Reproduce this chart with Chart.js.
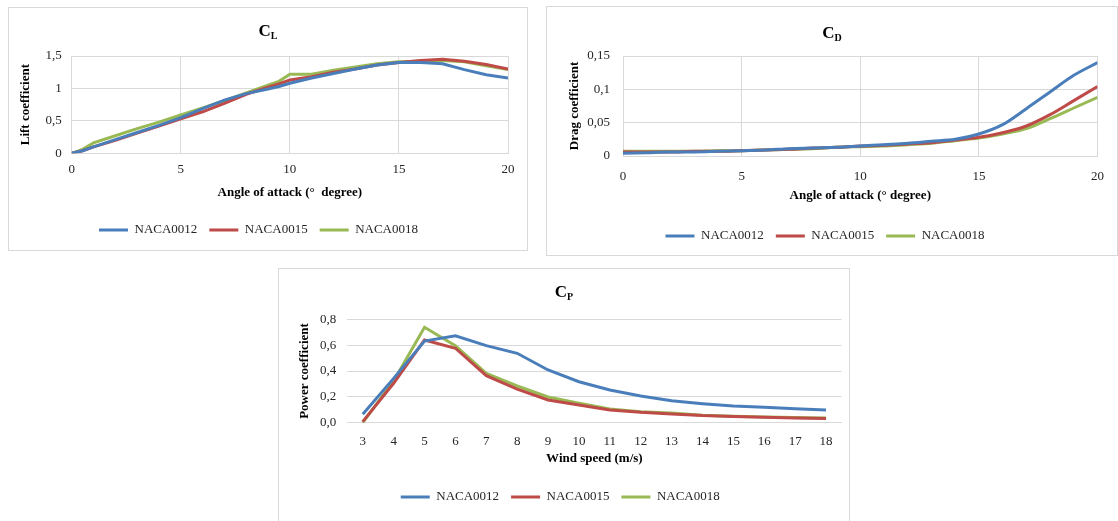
<!DOCTYPE html>
<html>
<head>
<meta charset="utf-8">
<script src="https://cdn.jsdelivr.net/npm/chart.js@4.4.1/dist/chart.umd.min.js"></script>
<style>
  html, body { margin:0; padding:0; background:#fff; }
  body { width:1118px; height:521px; position:relative; overflow:hidden; }
  .box { position:absolute; border:1px solid #d9d9d9; box-sizing:border-box; background:#fff; }
  #boxCL { left:8px; top:7px; width:520px; height:244px; }
  #boxCD { left:546px; top:6px; width:572px; height:250px; }
  #boxCP { left:278px; top:268px; width:572px; height:258px; }
</style>
</head>
<body>
<div class="box" id="boxCL"><canvas id="chartCL"></canvas></div>
<div class="box" id="boxCD"><canvas id="chartCD"></canvas></div>
<div class="box" id="boxCP"><canvas id="chartCP"></canvas></div>

<script>
// ---- data ----
const seriesNames = ['NACA0012', 'NACA0015', 'NACA0018'];

// lift coefficient vs angle of attack
const clAngles = [0, 0.5, 1, 2, 3, 4, 5, 6, 7, 8, 9, 9.5, 10, 11, 12, 13, 14, 15, 16, 17, 18, 19, 20];
const cl0012 = [0, 0.04, 0.10, 0.21, 0.32, 0.43, 0.55, 0.69, 0.82, 0.92, 0.99, 1.03, 1.08, 1.16, 1.23, 1.30, 1.36, 1.40, 1.40, 1.38, 1.29, 1.21, 1.16];
const cl0015 = [0, 0.04, 0.10, 0.20, 0.31, 0.42, 0.53, 0.64, 0.77, 0.91, 1.02, 1.07, 1.13, 1.18, 1.25, 1.30, 1.36, 1.40, 1.43, 1.45, 1.42, 1.37, 1.30];
const cl0018 = [0, 0.06, 0.16, 0.27, 0.38, 0.48, 0.59, 0.70, 0.81, 0.93, 1.05, 1.11, 1.22, 1.22, 1.28, 1.33, 1.38, 1.41, 1.42, 1.43, 1.41, 1.35, 1.29];
const clXTicks = [0, 5, 10, 15, 20];
const clYTicks = [0, 0.5, 1, 1.5];
const clYLabels = ['0', '0,5', '1', '1,5'];

// drag coefficient vs angle of attack
const cdAngles = [0, 1, 2, 3, 4, 5, 6, 7, 8, 9, 10, 11, 12, 13, 14, 15, 16, 17, 18, 19, 20];
const cd0012 = [0.004, 0.005, 0.006, 0.006, 0.007, 0.008, 0.009, 0.011, 0.012, 0.013, 0.015, 0.017, 0.019, 0.022, 0.025, 0.033, 0.047, 0.071, 0.096, 0.121, 0.140];
const cd0015 = [0.006, 0.006, 0.006, 0.007, 0.007, 0.008, 0.009, 0.010, 0.012, 0.013, 0.015, 0.016, 0.018, 0.020, 0.024, 0.028, 0.035, 0.045, 0.062, 0.083, 0.104];
const cd0018 = [0.007, 0.007, 0.007, 0.007, 0.008, 0.008, 0.009, 0.010, 0.011, 0.013, 0.014, 0.015, 0.017, 0.019, 0.023, 0.027, 0.033, 0.041, 0.056, 0.072, 0.088];
const cdXTicks = [0, 5, 10, 15, 20];
const cdYTicks = [0, 0.05, 0.1, 0.15];
const cdYLabels = ['0', '0,05', '0,1', '0,15'];

// power coefficient vs wind speed
const cpSpeeds = ['3', '4', '5', '6', '7', '8', '9', '10', '11', '12', '13', '14', '15', '16', '17', '18'];
const cp0012 = [0.065, 0.343, 0.632, 0.673, 0.596, 0.537, 0.408, 0.317, 0.253, 0.207, 0.170, 0.147, 0.129, 0.119, 0.108, 0.098];
const cp0015 = [0.008, 0.305, 0.640, 0.576, 0.364, 0.260, 0.176, 0.137, 0.098, 0.080, 0.068, 0.055, 0.048, 0.042, 0.036, 0.033];
const cp0018 = [0.000, 0.323, 0.738, 0.596, 0.382, 0.284, 0.199, 0.150, 0.106, 0.085, 0.075, 0.058, 0.050, 0.045, 0.040, 0.037];
const cpYTicks = [0, 0.2, 0.4, 0.6, 0.8];
const cpYLabels = ['0,0', '0,2', '0,4', '0,6', '0,8'];

const colors = ['#4a7ebb', '#be4b48', '#98b954'];
const GRID = '#d9d9d9';
const SERIF = '"Liberation Serif", "Times New Roman", serif';

Chart.defaults.font.family = SERIF;
Chart.defaults.color = '#262626';
Chart.defaults.animation = false;

// title with a subscript (C_L, C_D, C_P)
const subTitle = {
  id: 'subTitle',
  afterDraw(chart, args, opts) {
    const ctx = chart.ctx;
    ctx.save();
    ctx.fillStyle = '#000';
    ctx.textBaseline = 'alphabetic';
    ctx.textAlign = 'left';
    ctx.font = 'bold 17px ' + SERIF;
    const w1 = ctx.measureText(opts.main).width;
    ctx.font = 'bold 10px ' + SERIF;
    const w2 = ctx.measureText(opts.sub).width;
    const x = (chart.width - w1 - w2) / 2;
    ctx.font = 'bold 17px ' + SERIF;
    ctx.fillText(opts.main, x, opts.y);
    ctx.font = 'bold 10px ' + SERIF;
    ctx.fillText(opts.sub, x + w1, opts.y + 3);
    ctx.restore();
  }
};

const xy = (xs, ys) => xs.map((x, i) => ({ x, y: ys[i] }));

function lineSet(label, data, i, smooth) {
  return {
    label, data,
    borderColor: colors[i], backgroundColor: colors[i],
    borderWidth: 3, pointRadius: 0, pointHoverRadius: 0,
    tension: 0,
    cubicInterpolationMode: smooth ? 'monotone' : 'default'
  };
}

function legendOpts() {
  return {
    position: 'bottom',
    labels: {
      usePointStyle: true, pointStyle: 'line', pointStyleWidth: 29,
      boxHeight: 3, padding: 12,
      font: { size: 13 }, color: '#262626'
    }
  };
}

function axisTitle(text, pad) {
  return { display: true, text, font: { size: 13, weight: 'bold' }, color: '#000', padding: pad };
}

function fixedTicks(values) {
  return scale => { scale.ticks = values.map(v => ({ value: v })); };
}

// ---- C_L ----
new Chart(document.getElementById('chartCL'), {
  type: 'line',
  data: {
    datasets: [
      lineSet(seriesNames[0], xy(clAngles, cl0012), 0, false),
      lineSet(seriesNames[1], xy(clAngles, cl0015), 1, false),
      lineSet(seriesNames[2], xy(clAngles, cl0018), 2, false)
    ]
  },
  options: {
    responsive: true, maintainAspectRatio: false,
    layout: { padding: { top: 48, right: 19, left: 0, bottom: 3.5 } },
    plugins: {
      legend: legendOpts(),
      tooltip: { enabled: false },
      subTitle: { main: 'C', sub: 'L', y: 28 }
    },
    scales: {
      x: {
        type: 'linear', min: 0, max: 20,
        afterBuildTicks: fixedTicks(clXTicks),
        afterFit: s => { s.height = 58.2; },
        grid: { color: GRID, drawTicks: false },
        border: { color: GRID },
        ticks: { padding: 8.5, font: { size: 13 }, color: '#262626' },
        title: axisTitle('Angle of attack (°  degree)', { top: 0, bottom: 10.7 })
      },
      y: {
        min: 0, max: 1.5,
        afterBuildTicks: fixedTicks(clYTicks),
        afterFit: s => { s.width = 62.7; },
        grid: { color: GRID, drawTicks: false },
        border: { color: GRID },
        ticks: { padding: 10, font: { size: 13 }, color: '#262626', callback: (v, i) => clYLabels[i] },
        title: axisTitle('Lift coefficient', { top: 9, bottom: 0 })
      }
    }
  },
  plugins: [subTitle]
});

// ---- C_D ----
new Chart(document.getElementById('chartCD'), {
  type: 'line',
  data: {
    datasets: [
      lineSet(seriesNames[0], xy(cdAngles, cd0012), 0, true),
      lineSet(seriesNames[1], xy(cdAngles, cd0015), 1, true),
      lineSet(seriesNames[2], xy(cdAngles, cd0018), 2, true)
    ]
  },
  options: {
    responsive: true, maintainAspectRatio: false,
    layout: { padding: { top: 49, right: 14, left: 0, bottom: 2.5 } },
    plugins: {
      legend: legendOpts(),
      tooltip: { enabled: false },
      subTitle: { main: 'C', sub: 'D', y: 31 }
    },
    scales: {
      x: {
        type: 'linear', min: 0, max: 20,
        afterBuildTicks: fixedTicks(cdXTicks),
        afterFit: s => { s.height = 61.5; },
        grid: { color: GRID, drawTicks: false },
        border: { color: GRID },
        ticks: { padding: 13, font: { size: 13 }, color: '#262626' },
        title: axisTitle('Angle of attack (° degree)', { top: 0, bottom: 13.7 })
      },
      y: {
        min: 0, max: 0.15,
        afterBuildTicks: fixedTicks(cdYTicks),
        afterFit: s => { s.width = 76; },
        grid: { color: GRID, drawTicks: false },
        border: { color: GRID },
        ticks: { padding: 13, font: { size: 13 }, color: '#262626', callback: (v, i) => cdYLabels[i] },
        title: axisTitle('Drag coefficient', { top: 20, bottom: 0 })
      }
    }
  },
  plugins: [subTitle]
});

// ---- C_P ----
new Chart(document.getElementById('chartCP'), {
  type: 'line',
  data: {
    labels: cpSpeeds,
    datasets: [
      lineSet(seriesNames[0], cp0012, 0, false),
      lineSet(seriesNames[1], cp0015, 1, false),
      lineSet(seriesNames[2], cp0018, 2, false)
    ]
  },
  options: {
    responsive: true, maintainAspectRatio: false,
    layout: { padding: { top: 50.3, right: 7.5, left: 0, bottom: 11.5 } },
    plugins: {
      legend: legendOpts(),
      tooltip: { enabled: false },
      subTitle: { main: 'C', sub: 'P', y: 28 }
    },
    scales: {
      x: {
        offset: true,
        afterFit: s => { s.height = 55.8; },
        grid: { display: false, drawTicks: false },
        border: { color: GRID },
        ticks: { padding: 11, font: { size: 13 }, color: '#262626', autoSkip: false, maxRotation: 0 },
        title: axisTitle('Wind speed (m/s)', { top: 0, bottom: 11.7 })
      },
      y: {
        min: 0, max: 0.8,
        afterBuildTicks: fixedTicks(cpYTicks),
        afterFit: s => { s.width = 68.3; },
        grid: { color: GRID, drawTicks: false },
        border: { display: false },
        ticks: { padding: 11, font: { size: 13 }, color: '#262626', callback: (v, i) => cpYLabels[i] },
        title: axisTitle('Power coefficient', { top: 18, bottom: 0 })
      }
    }
  },
  plugins: [subTitle]
});
</script>
</body>
</html>
